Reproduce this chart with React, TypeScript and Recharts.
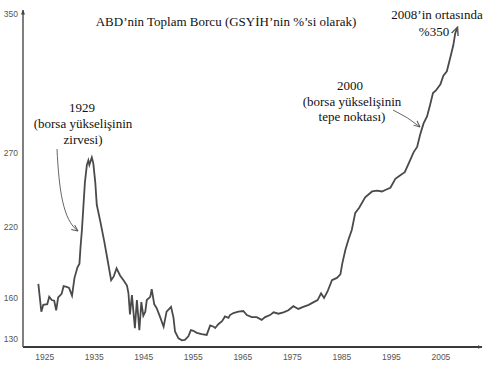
import React from 'react';
import { LineChart, Line, XAxis, YAxis } from 'recharts';

// ---- data ----
const years = [
  1923.7, 1924.3, 1924.7, 1925.5, 1925.9, 1926.4, 1926.9, 1927.3, 1927.7, 1928.4,
  1928.8, 1929.4, 1929.9, 1930.5, 1931.0, 1931.6, 1932.0, 1932.2, 1932.5, 1932.8,
  1933.1, 1933.5, 1933.8, 1934.0, 1934.5, 1934.8, 1935.2, 1935.5, 1936.2, 1937.0,
  1937.6, 1938.4, 1938.9, 1939.5, 1940.2, 1940.9, 1941.6, 1941.9, 1942.2, 1942.6,
  1943.2, 1943.6, 1944.1, 1944.5, 1944.9, 1945.3, 1945.6, 1946.3, 1946.6, 1947.1,
  1947.6, 1948.3, 1949.0, 1949.6, 1950.5, 1951.0, 1951.3, 1952.0, 1952.7, 1953.3,
  1954.0, 1954.5, 1955.0, 1955.7, 1956.7, 1957.7, 1958.4, 1959.1, 1959.4, 1960.1,
  1960.8, 1961.4, 1962.1, 1962.4, 1963.1, 1964.1, 1965.1, 1965.8, 1966.8, 1967.8,
  1968.8, 1969.5, 1970.5, 1971.2, 1972.2, 1973.2, 1974.2, 1975.2, 1976.2, 1977.2,
  1978.3, 1979.3, 1980.1, 1980.8, 1981.4, 1982.1, 1983.0, 1984.0, 1984.7, 1985.1,
  1985.7, 1986.3, 1987.0, 1987.7, 1988.5, 1989.7, 1991.1, 1992.1, 1993.1, 1994.1,
  1994.8, 1995.8, 1996.8, 1997.7, 1998.5, 1999.5, 2000.2, 2000.8, 2001.5, 2002.2,
  2002.8, 2003.4, 2004.0, 2004.9, 2005.5, 2006.2, 2006.9, 2007.5, 2007.9, 2008.3,
];
const debtPct = [
  172, 150, 155, 155.5, 161, 158.5, 158, 151, 160.5, 163.5,
  170, 169.5, 168.5, 162, 177, 186, 189, 202, 217.5, 234,
  250, 262, 265, 262, 267, 263, 250, 235, 224, 208,
  194, 175, 178, 185, 179, 175, 170.5, 164, 148, 162.5,
  138, 158.5, 136.5, 157, 147, 150, 158.5, 161, 167.5, 155.5,
  152.5, 146, 139, 150, 153.5, 145.5, 135.5, 130.5, 129, 129.3,
  132, 136.5, 136, 134.5, 133.5, 133, 140, 139, 138, 141,
  143, 146.5, 145.5, 147.5, 149, 150, 150.5, 147.5, 146, 146,
  144, 146, 147.5, 149.5, 148.5, 149.5, 151, 154, 152, 153.5,
  155, 157, 158.5, 164, 160, 165.5, 175, 177, 180, 189.5,
  200.5, 209, 217.5, 229.5, 233, 240, 244, 244.5, 244, 245.5,
  246.5, 252.5, 255, 257, 263, 270.5, 273.5, 280.5, 287, 291,
  297.5, 304.5, 306, 309.5, 314.5, 317, 325, 332, 339, 342,
];
const xTicks = [1925, 1935, 1945, 1955, 1965, 1975, 1985, 1995, 2005];
const yTicks = [130, 160, 220, 270, 350];

const data = years.map((y, i) => ({ year: y, debt: debtPct[i] }));

// ---- y-axis calibration: the printed axis of the source is unevenly spaced ----
const yKnotValues = [124, 130, 160, 220, 270, 350, 352];
const yKnotFractions = [0, 0.0237, 0.1454, 0.3561, 0.5757, 0.9881, 1];

function interp(v: number, xs: number[], ys: number[]): number {
  const n = xs.length;
  if (v <= xs[0]) return ys[0] + ((v - xs[0]) * (ys[1] - ys[0])) / (xs[1] - xs[0]);
  if (v >= xs[n - 1])
    return ys[n - 1] + ((v - xs[n - 1]) * (ys[n - 1] - ys[n - 2])) / (xs[n - 1] - xs[n - 2]);
  for (let i = 0; i < n - 1; i++) {
    if (v >= xs[i] && v <= xs[i + 1]) {
      return ys[i] + ((v - xs[i]) * (ys[i + 1] - ys[i])) / (xs[i + 1] - xs[i]);
    }
  }
  return ys[0];
}

function makePiecewiseScale(): any {
  let dom: number[] = [yKnotValues[0], yKnotValues[yKnotValues.length - 1]];
  let rng: number[] = [0, 1];
  const scale: any = (v: number) => {
    const f0 = interp(dom[0], yKnotValues, yKnotFractions);
    const f1 = interp(dom[1], yKnotValues, yKnotFractions);
    const t = (interp(Number(v), yKnotValues, yKnotFractions) - f0) / (f1 - f0);
    return rng[0] + t * (rng[1] - rng[0]);
  };
  scale.domain = (d?: any[]) => {
    if (d === undefined) return dom.slice();
    dom = [Number(d[0]), Number(d[d.length - 1])];
    return scale;
  };
  scale.range = (r?: any[]) => {
    if (r === undefined) return rng.slice();
    rng = [Number(r[0]), Number(r[r.length - 1])];
    return scale;
  };
  scale.invert = (px: number) => {
    const f0 = interp(dom[0], yKnotValues, yKnotFractions);
    const f1 = interp(dom[1], yKnotValues, yKnotFractions);
    const f = f0 + ((px - rng[0]) / (rng[1] - rng[0])) * (f1 - f0);
    return interp(f, yKnotFractions, yKnotValues);
  };
  scale.ticks = () => yTicks.filter((t) => t >= dom[0] && t <= dom[1]);
  scale.tickFormat = () => (v: any) => String(v);
  scale.clamp = () => scale;
  scale.nice = () => scale;
  scale.copy = () => {
    const s = makePiecewiseScale();
    s.domain(dom);
    s.range(rng);
    return s;
  };
  return scale;
}

const yScale = makePiecewiseScale();

const serif = '"Liberation Serif", "DejaVu Serif", serif';
const sans = '"Liberation Sans", Arial, sans-serif';

export default function App() {
  return (
    <div style={{ position: 'absolute', left: 0, top: 0, width: 500, height: 386, background: '#fff' }}>
      <svg
        width={500}
        height={386}
        style={{ position: 'absolute', left: 0, top: 0, pointerEvents: 'none', zIndex: 2 }}
      >
        <defs>
          <marker id="axArrow" viewBox="0 0 10 10" refX="9" refY="5" markerWidth="5" markerHeight="5"
            orient="auto-start-reverse" markerUnits="userSpaceOnUse">
            <path d="M0,1 L10,5 L0,9 z" fill="#444" />
          </marker>
          <marker id="lineArrow" viewBox="0 0 10 10" refX="8" refY="5" markerWidth="9" markerHeight="9"
            orient="auto" markerUnits="userSpaceOnUse">
            <path d="M0,1 L9,5 L0,9" fill="none" stroke="#555" strokeWidth="1.6" />
          </marker>
          <marker id="noteArrow" viewBox="0 0 10 10" refX="9" refY="5" markerWidth="7" markerHeight="7"
            orient="auto" markerUnits="userSpaceOnUse">
            <path d="M0,1 L9,5 L0,9" fill="none" stroke="#555" strokeWidth="1.4" />
          </marker>
        </defs>
        <text x={226} y={26} textAnchor="middle" fontFamily={serif} fontSize={13} fill="#111">
          ABD’nin Toplam Borcu (GSYİH’nin %’si olarak)
        </text>
        <g fontFamily={serif} fontSize={13} fill="#111" textAnchor="middle">
          <text x={82} y={112}>1929</text>
          <text x={83} y={128}>(borsa yükselişinin</text>
          <text x={83} y={144}>zirvesi)</text>
          <text x={350} y={90}>2000</text>
          <text x={352} y={106}>(borsa yükselişinin</text>
          <text x={352} y={121}>tepe noktası)</text>
          <text x={437} y={19}>2008’in ortasında</text>
          <text x={434} y={36}>%350</text>
        </g>
        <path d="M57,149 C59,190 63,220 78,231" fill="none" stroke="#555" strokeWidth={0.9}
          markerEnd="url(#noteArrow)" />
        <path d="M393,110 Q408,117 420,127" fill="none" stroke="#555" strokeWidth={0.9}
          markerEnd="url(#noteArrow)" />
      </svg>
      <LineChart width={500} height={386} data={data} margin={{ top: 10, right: 18, bottom: 0, left: 0 }}>
        <XAxis
          dataKey="year"
          type="number"
          domain={[1920.6, 2013.3]}
          ticks={xTicks}
          interval={0}
          allowDataOverflow
          height={39}
          tickLine={false}
          tickSize={4}
          tickMargin={3}
          axisLine={{ stroke: '#3a3a3a', strokeWidth: 2, markerEnd: 'url(#axArrow)' } as any}
          tick={{ fontSize: 8.5, fill: '#555', fontFamily: sans }}
        />
        <YAxis
          type="number"
          domain={[124, 352]}
          scale={yScale}
          ticks={yTicks}
          interval={0}
          allowDataOverflow
          width={23}
          tickLine={false}
          tickSize={4}
          tickMargin={1}
          axisLine={{ stroke: '#555', strokeWidth: 1.5, markerStart: 'url(#axArrow)' } as any}
          tick={{ fontSize: 8.5, fill: '#555', fontFamily: sans }}
        />
        <Line
          type="linear"
          dataKey="debt"
          stroke="#4a4a4a"
          strokeWidth={1.8}
          dot={false}
          isAnimationActive={false}
          markerEnd="url(#lineArrow)"
        />
      </LineChart>
    </div>
  );
}
